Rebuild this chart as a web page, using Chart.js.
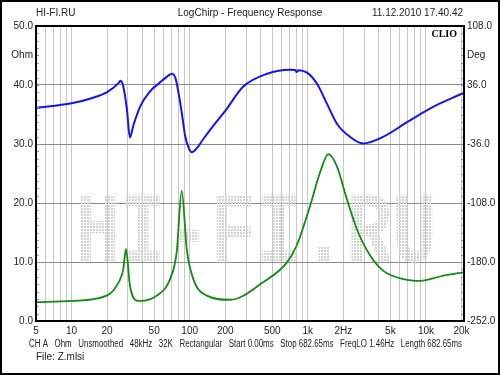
<!DOCTYPE html>
<html>
<head>
<meta charset="utf-8">
<script src="https://cdn.jsdelivr.net/npm/chart.js"></script>
<style>
  body { margin: 0; background: #fff; }
  #chart { display: block; }
</style>
</head>
<body>
<canvas id="chart" width="500" height="375"></canvas>
<script>
// impedance curves (Hz, Ohm)
const impFreq = [5, 10, 15, 20, 25.2, 25.8, 27.3, 29.4, 31.2, 33.3, 38.4, 45.6, 55.7, 66, 71, 76.2, 81.2, 86.4, 91.5, 98.6, 104, 115, 130, 160, 200, 283, 452, 708, 780, 805, 830, 986, 1197, 1455, 1770, 2280, 2935, 4330, 6920, 11500, 20600];
const impOhm = [36.1, 36.9, 37.8, 38.8, 40.4, 40.7, 39.9, 35.9, 31.1, 33.1, 36.5, 38.8, 40.4, 41.6, 41.9, 41.0, 38.2, 34.8, 31.4, 29.2, 28.6, 29.3, 30.8, 33.2, 35.6, 39.7, 41.9, 42.6, 42.55, 42.2, 42.5, 42.1, 40.2, 36.8, 33.4, 31.2, 30.1, 31.2, 33.7, 36.3, 38.6];

const grnFreq = [5, 10, 19.8, 24.1, 27.4, 28.9, 31.2, 35.6, 38, 52.6, 68.2, 77.7, 85.6, 94.4, 107.4, 139.5, 220, 420, 664, 805, 1045, 1270, 1493, 1758, 2137, 2598, 3370, 4364, 6443, 8913, 14060, 20750];
const grnOhm = [3.2, 3.4, 4.3, 6.0, 8.8, 12.2, 6.0, 3.45, 3.4, 4.3, 7.1, 11.7, 22.1, 12.2, 7.1, 4.3, 3.6, 6.6, 9.9, 12.8, 19.5, 25.2, 28.3, 26.3, 20.7, 15.6, 11.1, 8.5, 7.1, 6.8, 7.7, 8.25];

// x tick labels
const xTickValues = [5, 10, 20, 50, 100, 200, 500, 1000, 2000, 5000, 10000, 20000];
const xTickLabels = ['5', '10', '20', '50', '100', '200', '500', '1k', '2Hz', '5k', '10k', '20k'];

const FONT = "Arial, 'Liberation Sans', sans-serif";

function toPoints(xs, ys) {
  return xs.map((x, i) => ({ x: x, y: ys[i] }));
}

// all the 1..9 decade lines for the vertical grid
function decadeTicks(min, max) {
  const out = [];
  for (let d = 1; d <= 10000; d *= 10) {
    for (let m = 1; m <= 9; m++) {
      const v = m * d;
      if (v >= min && v <= max) out.push({ value: v });
    }
  }
  return out;
}

const decor = {
  id: 'decor',
  beforeDatasetsDraw(chart) {
    const c = chart.ctx, a = chart.chartArea;
    // dotted watermark
    const pc = document.createElement('canvas');
    pc.width = 3; pc.height = 3;
    const p = pc.getContext('2d');
    p.fillStyle = '#d2d2d2';
    p.fillRect(0, 0, 2, 2);
    c.save();
    c.beginPath();
    c.rect(a.left, a.top, a.right - a.left, a.bottom - a.top);
    c.clip();
    c.font = "bold 102px 'Liberation Mono', monospace";
    const txt = 'HI-FI.RU';
    const w = c.measureText(txt).width;
    const sx = 362 / w;
    const pat = c.createPattern(pc, 'repeat');
    pat.setTransform(new DOMMatrix().scale(1 / sx, 1));
    c.translate(75, 262);
    c.scale(sx, 1);
    c.fillStyle = pat;
    c.textBaseline = 'alphabetic';
    c.fillText(txt, 0, 0);
    c.restore();
  },
  afterDraw(chart) {
    const c = chart.ctx, a = chart.chartArea;
    const y = chart.scales.y;
    c.save();
    // minor ticks on both side axes
    c.strokeStyle = '#999';
    c.lineWidth = 1;
    for (let v = 1.25; v < 50; v += 1.25) {
      const py = Math.round(y.getPixelForValue(v)) + 0.5;
      c.beginPath();
      c.moveTo(a.left, py); c.lineTo(a.left + 3, py);
      c.moveTo(a.right, py); c.lineTo(a.right - 3, py);
      c.stroke();
    }
    // plot frame
    c.strokeStyle = '#000';
    c.lineWidth = 2;
    c.strokeRect(a.left, a.top, a.right - a.left, a.bottom - a.top);
    // outer frame
    c.strokeRect(1, 1, 498, 373);

    c.fillStyle = '#222';
    c.font = '10px ' + FONT;
    c.textBaseline = 'middle';
    c.textAlign = 'left';
    c.fillText('HI-FI.RU', 36, 13);
    c.textAlign = 'center';
    c.fillText('LogChirp - Frequency Response', 250, 13);
    c.textAlign = 'right';
    c.fillText('11.12.2010 17.40.42', 463, 13);

    c.textAlign = 'left';
    c.fillText('CH A   Ohm   Unsmoothed   48kHz   32K   Rectangular   Start 0.00ms   Stop 682.65ms   FreqLO 1.46Hz   Length 682.65ms', 29, 344, 433);
    c.fillText('File: Z.mlsi', 36, 357);

    c.font = "bold 10px 'Liberation Serif', 'DejaVu Serif', serif";
    c.textAlign = 'right';
    c.fillStyle = '#000';
    c.fillText('CLIO', 457, 34);
    c.restore();
  }
};

const data = {
  datasets: [
    {
      label: 'Blue',
      data: toPoints(impFreq, impOhm),
      borderColor: '#1414f0',
      borderWidth: 2,
      pointRadius: 0,
      cubicInterpolationMode: 'monotone',
      yAxisID: 'y'
    },
    {
      label: 'Green',
      data: toPoints(grnFreq, grnOhm),
      borderColor: '#138a13',
      borderWidth: 1.8,
      pointRadius: 0,
      cubicInterpolationMode: 'monotone',
      yAxisID: 'y'
    }
  ]
};

const config = {
  type: 'line',
  data: data,
  options: {
    responsive: false,
    animation: false,
    layout: { padding: { top: 26, left: 0, right: 0, bottom: 0 } },
    plugins: {
      legend: { display: false },
      tooltip: { enabled: false }
    },
    scales: {
      x: {
        type: 'logarithmic',
        min: 5,
        max: 21000,
        border: { display: false },
        grid: { color: '#c8c8c8', lineWidth: 1, drawTicks: false },
        afterBuildTicks: (s) => { s.ticks = decadeTicks(5, 20000); },
        afterFit: (s) => { s.height = 54; },
        ticks: {
          autoSkip: false,
          maxRotation: 0,
          padding: 4,
          color: '#222',
          font: { size: 10, family: FONT },
          callback: (v) => {
            const i = xTickValues.indexOf(v);
            return i >= 0 ? xTickLabels[i] : '';
          }
        }
      },
      y: {
        position: 'left',
        min: 0,
        max: 50,
        border: { display: false },
        grid: {
          drawTicks: false,
          color: (ctx) => {
            const v = ctx.tick ? ctx.tick.value : 0;
            return (v % 10 === 0 && v > 0 && v < 50) ? '#8a8a8a' : 'rgba(0,0,0,0)';
          }
        },
        afterFit: (s) => { s.width = 36; },
        ticks: {
          stepSize: 5,
          padding: 3,
          color: '#222',
          font: { size: 10, family: FONT },
          callback: (v) => v === 45 ? 'Ohm' : (v % 10 === 0 ? v.toFixed(1) : '')
        }
      },
      y2: {
        position: 'right',
        min: -252,
        max: 108,
        border: { display: false },
        grid: { display: false, drawTicks: false },
        afterFit: (s) => { s.width = 36; },
        ticks: {
          stepSize: 36,
          padding: 3,
          color: '#222',
          font: { size: 10, family: FONT },
          callback: (v) => v === 72 ? 'Deg' : ((v - 108) % 72 === 0 ? v.toFixed(1) : '')
        }
      }
    }
  },
  plugins: [decor]
};

window.addEventListener('DOMContentLoaded', () => {
  const ctx = document.getElementById('chart').getContext('2d');
  new Chart(ctx, config);
});
</script>
</body>
</html>
